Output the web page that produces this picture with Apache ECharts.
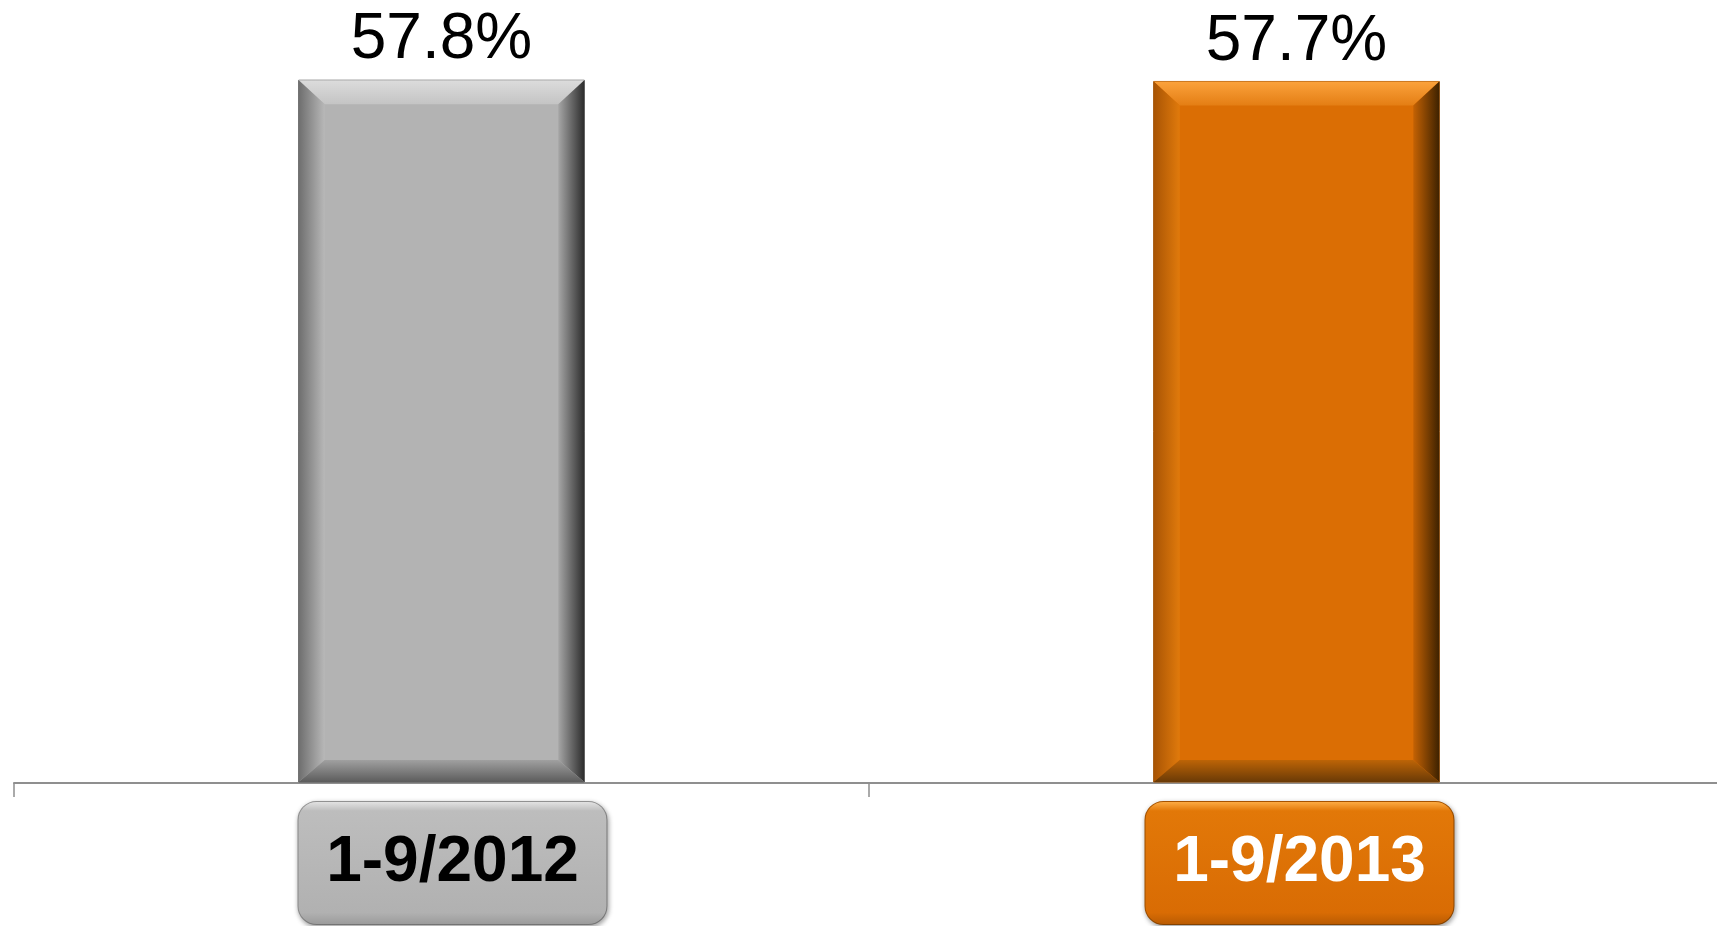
<!DOCTYPE html>
<html>
<head>
<meta charset="utf-8">
<script src="https://cdn.jsdelivr.net/npm/echarts@6/dist/echarts.min.js"></script>
<style>
  html, body { margin: 0; padding: 0; background: #fff; }
  #main { width: 1717px; height: 926px; }
</style>
</head>
<body>
<div id="main"></div>
<script>
// data
var categories = ['1-9/2012', '1-9/2013'];
var values = [57.8, 57.7];

// bar palettes: main, top band, left band, right band, bottom band, outline
var palettes = [
    { main: '#b3b3b3', top: ['#dcdcdc', '#c4c4c4'], left: ['#6e6e6e', '#b8b8b8'],
      right: ['#a6a6a6', '#2c2c2c'], bottom: ['#a0a0a0', '#5c5c5c'], edge: '#5a5a5a' },
    { main: '#db6e04', top: ['#fba23c', '#e47e14'], left: ['#a85404', '#e07a0c'],
      right: ['#c46204', '#3e2200'], bottom: ['#bd6406', '#6a3a06'], edge: '#9a4e02' }
];

function grad(x0, y0, x1, y1, c) {
    return new echarts.graphic.LinearGradient(x0, y0, x1, y1, [
        { offset: 0, color: c[0] }, { offset: 1, color: c[1] }
    ]);
}

var labelFont = 'Liberation Sans, Arial, sans-serif';

var myChart = echarts.init(document.getElementById('main'));

const option = {
    backgroundColor: '#fff',
    animation: false,
    grid: { left: 14, right: -7, top: 0, bottom: 143, outerBoundsMode: 'none', containLabel: false },
    xAxis: {
        type: 'category',
        data: categories,
        axisLine: { show: true, lineStyle: { color: '#8f8f8f', width: 2 } },
        axisTick: { show: true, length: 14, lineStyle: { color: '#8f8f8f', width: 1.5 } },
        axisLabel: {
            margin: 19,
            formatter: function (v, i) {
                // small spacer nudges each label box a bit to the right
                return i === 0 ? '{s1|}{g|' + v + '}' : '{s2|}{o|' + v + '}';
            },
            rich: {
                s1: { width: 22, height: 122 },
                s2: { width: 6, height: 122 },
                g: {
                    color: '#000', fontSize: 64, fontWeight: 'bold', fontFamily: labelFont,
                    width: 308, height: 122, lineHeight: 122, align: 'center',
                    backgroundColor: new echarts.graphic.LinearGradient(0, 0, 0, 1, [
                        { offset: 0, color: '#e6e6e6' }, { offset: 0.08, color: '#bdbdbd' },
                        { offset: 0.9, color: '#b1b1b1' }, { offset: 1, color: '#9a9a9a' }
                    ]),
                    borderColor: '#9a9a9a', borderWidth: 1, borderRadius: 18,
                    shadowColor: 'rgba(0,0,0,0.35)', shadowBlur: 5, shadowOffsetX: 1, shadowOffsetY: 2
                },
                o: {
                    color: '#fff', fontSize: 64, fontWeight: 'bold', fontFamily: labelFont,
                    width: 308, height: 122, lineHeight: 122, align: 'center',
                    backgroundColor: new echarts.graphic.LinearGradient(0, 0, 0, 1, [
                        { offset: 0, color: '#ffb04a' }, { offset: 0.08, color: '#e27808' },
                        { offset: 0.9, color: '#d96c04' }, { offset: 1, color: '#b85a02' }
                    ]),
                    borderColor: '#b05800', borderWidth: 1, borderRadius: 18,
                    shadowColor: 'rgba(0,0,0,0.35)', shadowBlur: 5, shadowOffsetX: 1, shadowOffsetY: 2
                }
            }
        }
    },
    yAxis: {
        type: 'value',
        min: 0,
        max: 64.4,
        show: false,
        splitLine: { show: false }
    },
    series: [
        {
            type: 'custom',
            data: values.map(function (v, i) { return [i, v]; }),
            renderItem: function (params, api) {
                var i = api.value(0);
                var p = palettes[i];
                var top = api.coord([i, api.value(1)]);
                var base = api.coord([i, 0]);
                var w = api.size([1, 0])[0] * 0.334;
                var x0 = top[0] - w / 2, x1 = top[0] + w / 2;
                var y0 = top[1], y1 = base[1] - 1;
                var b = 26, bt = 24, bb = 22;
                return {
                    type: 'group',
                    children: [
                        {
                            type: 'rect',
                            shape: { x: x0, y: y0, width: w, height: y1 - y0 },
                            style: { fill: p.main, stroke: p.edge, lineWidth: 1 },
                            textContent: {
                                style: {
                                    text: api.value(1).toFixed(1) + '%',
                                    fontSize: 64, fontFamily: labelFont,
                                    fill: '#000'
                                }
                            },
                            textConfig: { position: 'top', distance: 7 }
                        },
                        {
                            type: 'polygon',
                            shape: { points: [[x0, y0], [x1, y0], [x1 - b, y0 + bt], [x0 + b, y0 + bt]] },
                            style: { fill: grad(0, 0, 0, 1, p.top) }
                        },
                        {
                            type: 'polygon',
                            shape: { points: [[x0, y0], [x0 + b, y0 + bt], [x0 + b, y1 - bb], [x0, y1]] },
                            style: { fill: grad(0, 0, 1, 0, p.left) }
                        },
                        {
                            type: 'polygon',
                            shape: { points: [[x1, y0], [x1, y1], [x1 - b, y1 - bb], [x1 - b, y0 + bt]] },
                            style: { fill: grad(0, 0, 1, 0, p.right) }
                        },
                        {
                            type: 'polygon',
                            shape: { points: [[x0, y1], [x1, y1], [x1 - b, y1 - bb], [x0 + b, y1 - bb]] },
                            style: { fill: grad(0, 0, 0, 1, p.bottom) }
                        }
                    ]
                };
            }
        }
    ]
};

myChart.setOption(option);
</script>
</body>
</html>
